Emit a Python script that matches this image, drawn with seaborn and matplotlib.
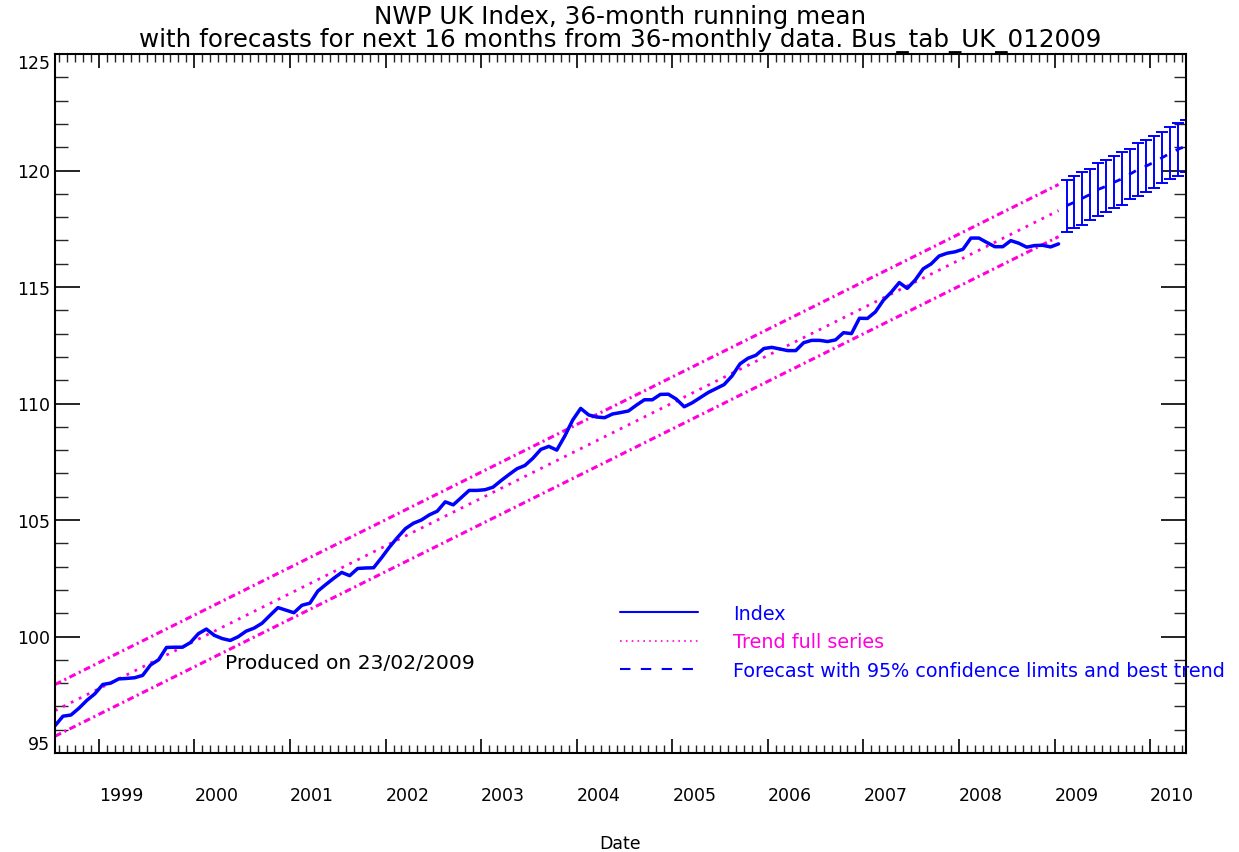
import matplotlib
matplotlib.use("Agg")
import matplotlib.pyplot as plt
from matplotlib.lines import Line2D
from matplotlib.ticker import MultipleLocator
import pandas as pd
import seaborn as sns

# Index, 36-month running mean, monthly from Jul 1998 to Jan 2009
index_values = [
    96.17, 96.58, 96.63, 96.92, 97.26, 97.54, 97.94, 98.00, 98.18, 98.20,
    98.23, 98.33, 98.78, 99.00, 99.53, 99.54, 99.54, 99.74, 100.12, 100.32,
    100.05, 99.91, 99.83, 99.99, 100.23, 100.36, 100.57, 100.91, 101.24, 101.13,
    101.02, 101.34, 101.43, 101.95, 102.23, 102.50, 102.75, 102.61, 102.92, 102.94,
    102.95, 103.38, 103.84, 104.25, 104.63, 104.86, 105.00, 105.22, 105.38, 105.78,
    105.65, 105.96, 106.27, 106.27, 106.30, 106.41, 106.69, 106.95, 107.20, 107.34,
    107.65, 108.03, 108.16, 108.00, 108.60, 109.29, 109.79, 109.51, 109.42, 109.39,
    109.55, 109.61, 109.68, 109.93, 110.16, 110.16, 110.39, 110.40, 110.19, 109.86,
    110.03, 110.25, 110.47, 110.64, 110.81, 111.18, 111.70, 111.94, 112.07, 112.36,
    112.41, 112.34, 112.27, 112.27, 112.61, 112.71, 112.71, 112.66, 112.73, 113.04,
    113.00, 113.66, 113.65, 113.93, 114.43, 114.78, 115.19, 114.94, 115.30, 115.78,
    115.99, 116.33, 116.45, 116.51, 116.62, 117.10, 117.10, 116.91, 116.73, 116.73,
    116.99, 116.88, 116.71, 116.78, 116.79, 116.72, 116.85,
]
first_year, first_month = 1998, 7

# Straight-line trend of the full series and its band (first and last month)
trend_mid = [96.82, 118.28]
trend_upper = [97.94, 119.40]
trend_lower = [95.72, 117.16]

# Forecast for the next 16 months (Feb 2009 .. May 2010) with 95% limits
forecast_mid = [118.49, 118.64, 118.81, 118.98, 119.19, 119.33, 119.50, 119.65,
                119.85, 120.05, 120.19, 120.36, 120.55, 120.74, 120.91, 121.05]
forecast_low = [117.37, 117.52, 117.67, 117.89, 118.06, 118.21, 118.38, 118.52,
                118.78, 118.92, 119.06, 119.24, 119.45, 119.62, 119.78, 119.92]
forecast_high = [119.61, 119.75, 119.95, 120.06, 120.31, 120.45, 120.61, 120.78,
                 120.92, 121.17, 121.31, 121.47, 121.64, 121.85, 122.03, 122.17]

year_ticks = list(range(1999, 2011))
y_ticks = [95, 100, 105, 110, 115, 120, 125]

BLUE = "#0000ff"
MAGENTA = "#ff00dd"


def decimal_year(i):
    """Mid-month position of the i-th month counted from the first month."""
    return first_year + (first_month - 1 + i + 0.5) / 12.0


n_idx = len(index_values)
n_fc = len(forecast_mid)
idx_df = pd.DataFrame({"date": [decimal_year(i) for i in range(n_idx)],
                       "value": index_values})
trend_x = [decimal_year(0), decimal_year(n_idx - 1)]
trend_df = pd.DataFrame({"date": trend_x * 3,
                         "value": trend_mid + trend_upper + trend_lower,
                         "line": ["mid"] * 2 + ["upper"] * 2 + ["lower"] * 2})
fc_df = pd.DataFrame({"date": [decimal_year(n_idx + i) for i in range(n_fc)],
                      "mid": forecast_mid, "low": forecast_low, "high": forecast_high})

sns.set_theme(style="ticks")
plt.rcParams["font.family"] = ["DejaVu Sans"]

fig = plt.figure(figsize=(12.39, 8.53), dpi=100)
ax = fig.add_axes([55 / 1239, 1 - 754 / 853, 1131 / 1239, 699 / 853])

# Trend of the full series: dotted centre line, dash-dot band
sns.lineplot(data=trend_df[trend_df["line"] == "mid"], x="date", y="value",
             color=MAGENTA, lw=2.0, linestyle=(0, (1, 2.2)), ax=ax)
for name in ["upper", "lower"]:
    sns.lineplot(data=trend_df[trend_df["line"] == name], x="date", y="value",
                 color=MAGENTA, lw=2.2, linestyle=(0, (2.2, 1.2, 0.7, 1.2)), ax=ax)

# Index
sns.lineplot(data=idx_df, x="date", y="value", color=BLUE, lw=2.5, ax=ax)

# Forecast with confidence limits and best trend
ax.errorbar(fc_df["date"], fc_df["mid"],
            yerr=[fc_df["mid"] - fc_df["low"], fc_df["high"] - fc_df["mid"]],
            fmt="none", ecolor=BLUE, elinewidth=1.4, capsize=4.5, capthick=1.4)
sns.lineplot(data=fc_df, x="date", y="mid", color=BLUE, lw=2.0,
             linestyle=(0, (2.8, 3.5)), ax=ax)

ax.set_xlim(decimal_year(0), decimal_year(n_idx + n_fc - 1))
ax.set_ylim(95, 125)

ax.set_xticks(year_ticks)
ax.set_xticklabels([str(y) for y in year_ticks], ha="left")
ax.xaxis.set_minor_locator(MultipleLocator(1 / 12))
ax.set_yticks(y_ticks)
ax.set_yticklabels([str(v) for v in y_ticks])
ax.yaxis.set_minor_locator(MultipleLocator(1))

ax.tick_params(axis="x", which="major", direction="in", length=10, width=1.2,
               top=True, bottom=True, pad=24, labelsize=12.5, colors="black")
ax.tick_params(axis="x", which="minor", direction="in", length=5.5, width=1.0,
               top=True, bottom=True)
ax.tick_params(axis="y", which="major", direction="in", length=18, width=1.2,
               left=True, right=True, pad=3.5, labelsize=12.5, colors="black")
ax.tick_params(axis="y", which="minor", direction="in", length=9, width=1.0,
               left=True, right=True)
ylabels = ax.get_yticklabels()
ylabels[0].set_verticalalignment("bottom")
ylabels[-1].set_verticalalignment("top")

for spine in ax.spines.values():
    spine.set_visible(True)
    spine.set_linewidth(1.5)
    spine.set_color("black")

ax.set_xlabel("Date", fontsize=12.5, labelpad=21.5, color="black")
ax.set_ylabel("")
ax.set_title("NWP UK Index, 36-month running mean\n"
             "with forecasts for next 16 months from 36-monthly data. Bus_tab_UK_012009",
             fontsize=17.7, linespacing=0.95, pad=6, color="black")

ax.text(2000.32, 98.9, "Produced on 23/02/2009", fontsize=14.6,
        ha="left", va="center", color="black")

handles = [
    Line2D([], [], color=BLUE, lw=1.5),
    Line2D([], [], color=MAGENTA, lw=1.2, linestyle=(0, (1, 2.5))),
    Line2D([], [], color=BLUE, lw=1.5, linestyle=(0, (5, 5))),
]
labels = ["Index", "Trend full series",
          "Forecast with 95% confidence limits and best trend"]
ax.legend(handles, labels, loc="upper left", bbox_to_anchor=(0.4996, 0.2134),
          frameon=False, fontsize=13.75, handlelength=4.1, handletextpad=1.8,
          labelspacing=0.5, borderpad=0, borderaxespad=0,
          labelcolor=[BLUE, MAGENTA, BLUE])

fig.savefig("out.png", dpi=100)
